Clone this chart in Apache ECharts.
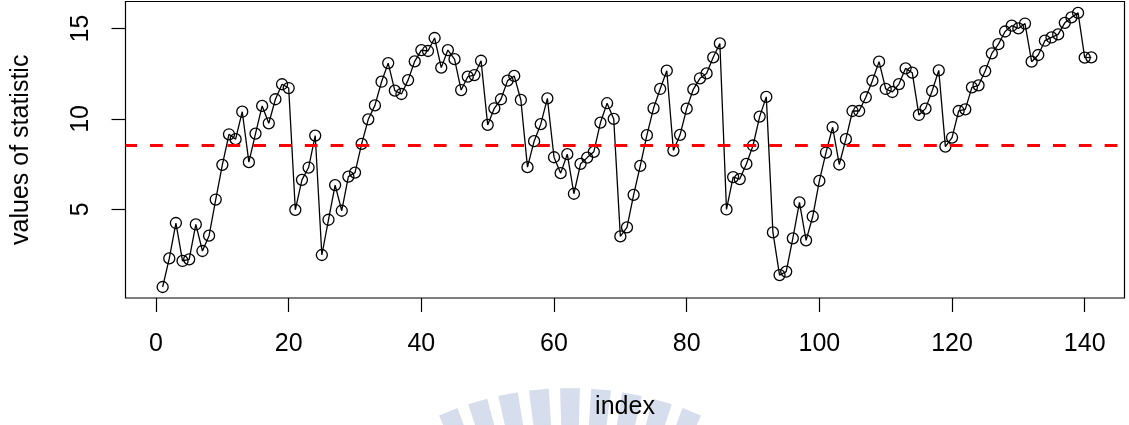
<!DOCTYPE html>
<html>
<head>
<meta charset="utf-8">
<script src="https://cdn.jsdelivr.net/npm/echarts@6/dist/echarts.min.js"></script>
<style>
  html, body { margin: 0; padding: 0; background: #ffffff; }
  #chart { width: 1129px; height: 425px; }
</style>
</head>
<body>
<div id="chart"></div>
<script>
// Statistic value at each index (1..141)
const statValues = [
  0.70, 2.28, 4.24, 2.14, 2.23, 4.16, 2.69, 3.54, 5.54, 7.46,
  9.15, 8.88, 10.40, 7.61, 9.19, 10.72, 9.76, 11.09, 11.92, 11.71,
  4.97, 6.63, 7.31, 9.08, 2.47, 4.42, 6.34, 4.92, 6.81, 7.03,
  8.62, 9.98, 10.75, 12.06, 13.09, 11.57, 11.38, 12.15, 13.19, 13.81,
  13.76, 14.48, 12.84, 13.81, 13.31, 11.60, 12.34, 12.43, 13.22, 9.67,
  10.59, 11.09, 12.12, 12.38, 11.05, 7.33, 8.77, 9.71, 11.14, 7.88,
  7.00, 8.05, 5.86, 7.51, 7.86, 8.18, 9.80, 10.87, 10.00, 3.50,
  4.00, 5.80, 7.40, 9.10, 10.59, 11.66, 12.67, 8.25, 9.12, 10.57,
  11.64, 12.25, 12.52, 13.41, 14.18, 4.99, 6.78, 6.67, 7.51, 8.53,
  10.13, 11.22, 3.72, 1.36, 1.55, 3.39, 5.38, 3.28, 4.60, 6.57,
  8.14, 9.54, 7.48, 8.88, 10.44, 10.44, 11.20, 12.12, 13.17, 11.66,
  11.49, 11.93, 12.80, 12.56, 10.22, 10.57, 11.55, 12.69, 8.47, 8.97,
  10.44, 10.53, 11.75, 11.86, 12.65, 13.63, 14.14, 14.84, 15.16, 15.01,
  15.28, 13.17, 13.54, 14.33, 14.51, 14.68, 15.32, 15.62, 15.87, 13.39,
  13.41
];
// Reference level drawn as the dashed red line
const thresholdValue = 8.55;
// Axis tick labels
const xTicks = [0, 20, 40, 60, 80, 100, 120, 140];
const yTicks = [5, 10, 15];

const indexValues = statValues.map((_, k) => k + 1);
const seriesData = indexValues.map((x, k) => [x, statValues[k]]);

const FONT = '"Liberation Sans", Arial, Helvetica, sans-serif';

// Faint radial seal behind the x-axis title
function sealRays() {
  const cx = 570, cy = 713, rOut = 325, rIn = 240;
  const step = 5.5, half = 1.75;
  const items = [];
  for (let k = -4; k <= 4; k++) {
    const a0 = (k * step - half) * Math.PI / 180;
    const a1 = (k * step + half) * Math.PI / 180;
    const pt = (r, a) => [cx + r * Math.sin(a), cy - r * Math.cos(a)];
    items.push({
      type: 'polygon',
      z: -10,
      silent: true,
      shape: { points: [pt(rIn, a0), pt(rOut, a0), pt(rOut, a1), pt(rIn, a1)] },
      style: { fill: 'rgb(214,221,237)' }
    });
  }
  return items;
}

const chart = echarts.init(document.getElementById('chart'), null, { renderer: 'canvas' });
chart.setOption({
  animation: false,
  backgroundColor: '#ffffff',
  graphic: sealRays(),
  grid: {
    left: 125.5, top: 1.5, width: 999, height: 297,
    show: true, borderColor: '#000000', borderWidth: 1.2, backgroundColor: 'transparent'
  },
  xAxis: {
    type: 'value',
    min: -4.6, max: 146,
    name: 'index',
    nameLocation: 'middle',
    nameGap: 97,
    nameTextStyle: { fontFamily: FONT, fontSize: 25, color: '#000' },
    splitLine: { show: false },
    axisLine: { show: false, onZero: false },
    axisTick: { show: true, length: 14, customValues: xTicks, lineStyle: { color: '#000', width: 1.2 } },
    axisLabel: { customValues: xTicks, margin: 34, fontFamily: FONT, fontSize: 25, color: '#000' }
  },
  yAxis: {
    type: 'value',
    min: 0.09, max: 16.5,
    name: 'values of statistic',
    nameLocation: 'middle',
    nameRotate: 90,
    nameGap: 92,
    nameTextStyle: { fontFamily: FONT, fontSize: 25, color: '#000' },
    splitLine: { show: false },
    axisLine: { show: false, onZero: false },
    axisTick: { show: true, length: 14, customValues: yTicks, lineStyle: { color: '#000', width: 1.2 } },
    axisLabel: { customValues: yTicks, rotate: 90, margin: 32, fontFamily: FONT, fontSize: 25, color: '#000' }
  },
  series: [{
    type: 'line',
    data: seriesData,
    symbol: 'circle',
    symbolSize: 11,
    showAllSymbol: true,
    lineStyle: { color: '#000', width: 1.3 },
    itemStyle: { color: 'transparent', borderColor: '#000', borderWidth: 1.3 },
    emphasis: { disabled: true },
    markLine: {
      silent: true,
      symbol: 'none',
      label: { show: false },
      lineStyle: { color: '#ff0000', width: 3, type: [12.8, 13], dashOffset: 1.3 },
      data: [{ yAxis: thresholdValue }]
    }
  }]
});
</script>
</body>
</html>
